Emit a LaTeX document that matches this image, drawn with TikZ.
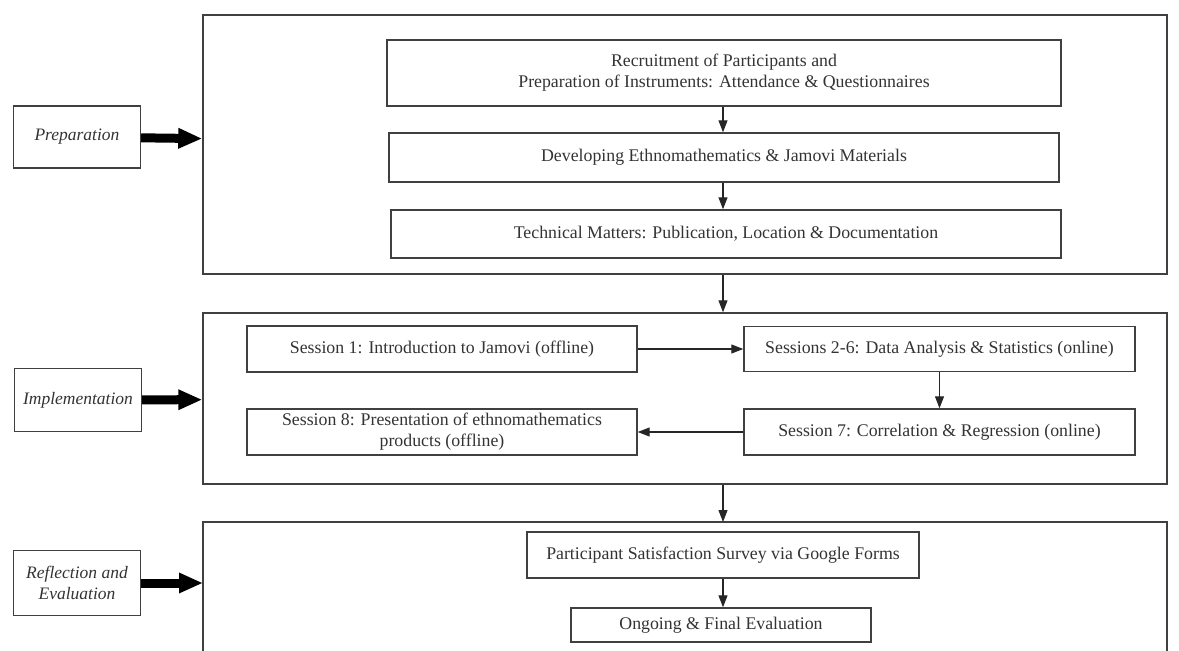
\documentclass[tikz,border=0pt]{standalone}
\usepackage{fontspec}
\setmainfont{Liberation Serif}
\usetikzlibrary{arrows.meta}

\begin{document}
\begin{tikzpicture}[x=1pt, y=-1pt,
        every node/.style={align=center, inner sep=0pt, text=black!80, font=\fontsize{17.8}{21}\selectfont},
        proc/.style={draw=black!75, line width=1.4pt},
        fase/.style={draw=black!75, line width=1.4pt, minimum width=127pt, font=\fontsize{17.5}{21}\selectfont\itshape},
        marco/.style={draw=black!75, line width=1.4pt, minimum width=964pt},
        flecha/.style={-{Triangle[length=12pt,width=9pt]}, line width=1.1pt, black!85},
        flechagruesa/.style={-{Triangle[length=24pt,width=19pt]}, line width=9pt, black}
    ]
    \useasboundingbox (0,0) rectangle (1179,651);

    % fases
    \node (prep) [fase, minimum height=62pt] at (77,137) {Preparation};
    \node (impl) [fase, minimum height=63pt] at (78,400) {Implementation};
    \node (refl) [fase, minimum height=65pt] at (77,583) {Reflection and\\Evaluation};

    % marcos
    \node (mprep) [marco, minimum height=259pt] at (685,144.5) {};
    \node (mimpl) [marco, minimum height=171pt] at (685,398.5) {};
    \draw [black!75, line width=1.4pt] (203,651) -- (203,522) -- (1167,522) -- (1167,651);
    \coordinate (mrefl) at (203,583);
    \coordinate (mreflt) at (723,522);

    % preparacion
    \node (p1) [proc, minimum width=674pt, minimum height=66pt] at (724,73) {Recruitment of Participants and\\Preparation of Instruments: Attendance \& Questionnaires};
    \node (p2) [proc, minimum width=670pt, minimum height=49pt] at (724,157.5) {Developing Ethnomathematics \& Jamovi Materials};
    \node (p3) [proc, minimum width=670pt, minimum height=48pt] at (726,234) {Technical Matters: Publication, Location \& Documentation};

    % implementacion
    \node (s1) [proc, minimum width=390pt, minimum height=46pt] at (442,349) {Session 1: Introduction to Jamovi (offline)};
    \node (s2) [proc, minimum width=391pt, minimum height=45pt] at (939.5,349) {Sessions 2-6: Data Analysis \& Statistics (online)};
    \node (s7) [proc, minimum width=391pt, minimum height=46pt] at (939.5,432) {Session 7: Correlation \& Regression (online)};
    \node (s8) [proc, minimum width=390pt, minimum height=46pt] at (442,432) {Session 8: Presentation of ethnomathematics\\products (offline)};

    % reflexion
    \node (r1) [proc, minimum width=392pt, minimum height=46pt] at (723,555) {Participant Satisfaction Survey via Google Forms};
    \node (r2) [proc, minimum width=300pt, minimum height=34pt] at (721,625) {Ongoing \& Final Evaluation};

    \draw [flechagruesa] (prep) -- (mprep);
    \draw [flechagruesa] (impl) -- (mimpl);
    \draw [flechagruesa] (refl) -- (mrefl);

    \draw [flecha] (p1.south -| 723,0) -- (p2.north -| 723,0);
    \draw [flecha] (p2.south -| 723,0) -- (p3.north -| 723,0);
    \draw [flecha] (mprep.south -| 723,0) -- (mimpl.north -| 723,0);
    \draw [flecha] (s1) -- (s2);
    \draw [flecha] (s2) -- (s7);
    \draw [flecha] (s7) -- (s8);
    \draw [flecha] (mimpl.south -| mreflt) -- (mreflt);
    \draw [flecha] (r1) -- (r1 |- r2.north);
\end{tikzpicture}
\end{document}
